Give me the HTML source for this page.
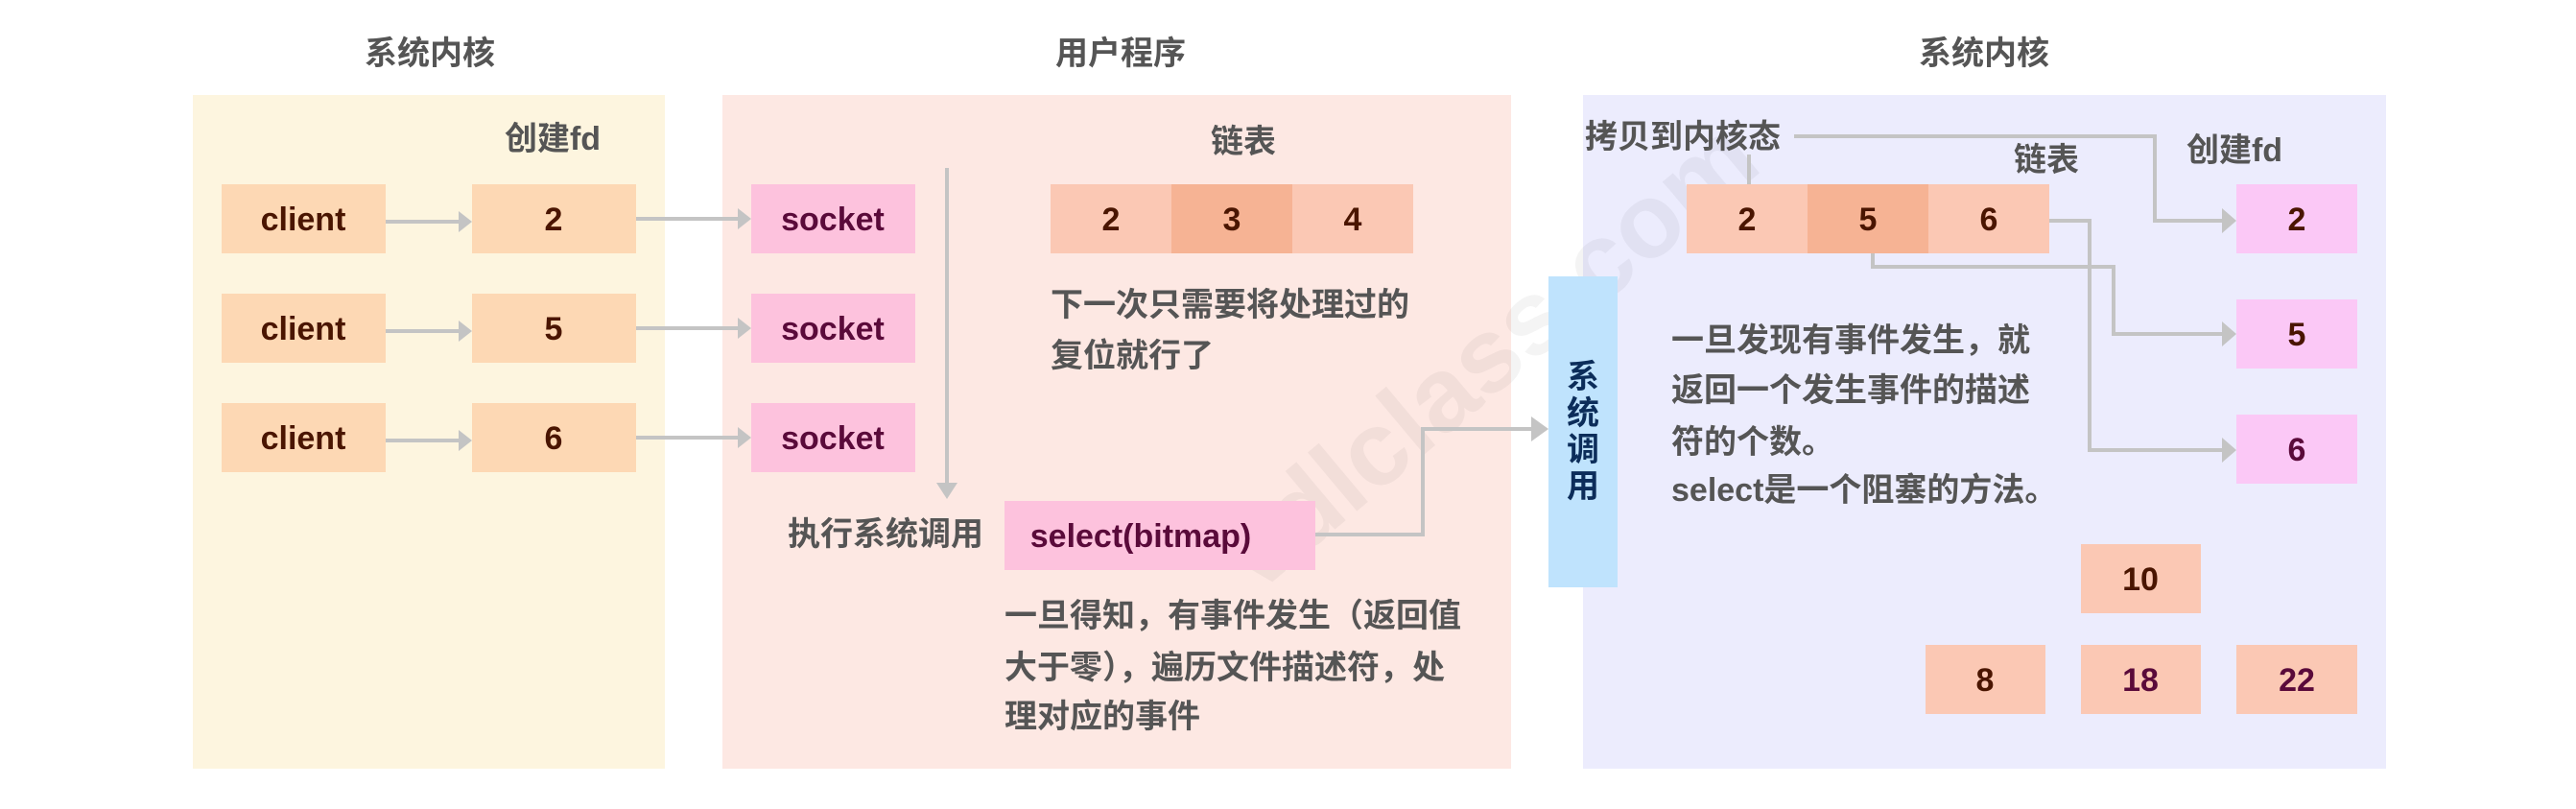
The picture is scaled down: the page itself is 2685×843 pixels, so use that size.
<!DOCTYPE html>
<html><head><meta charset="utf-8"><style>
html,body{margin:0;padding:0;background:#fff;}
svg{display:block;}
text{font-family:"Liberation Sans","Noto Sans CJK SC",sans-serif;font-weight:bold;}
.t{fill:#555;font-size:34px;}
.b{font-size:34px;text-anchor:middle;dominant-baseline:central;}
.br{fill:#4a1500;}
.pu{fill:#5a0a3a;}
.ln{stroke:#c4c4c4;stroke-width:4;fill:none;}
.ah{fill:#c4c4c4;}
</style></head><body>
<svg width="2685" height="843" viewBox="0 0 2685 843" xmlns="http://www.w3.org/2000/svg">
<!-- panels -->
<rect x="201" y="99" width="492" height="702" fill="#fdf5df"/>
<rect x="753" y="99" width="822" height="702" fill="#fde8e3"/>
<rect x="1650" y="99" width="837" height="702" fill="#ececfd"/>

<!-- titles -->
<text class="t b" x="448" y="56" style="fill:#555">系统内核</text>
<text class="t b" x="1168" y="56" style="fill:#555">用户程序</text>
<text class="t b" x="2068" y="56" style="fill:#555">系统内核</text>

<!-- watermark -->
<text x="1310" y="620" transform="rotate(-40 1310 620)" style="font-size:110px;fill:#000;opacity:0.04">vdlclass.com</text>

<!-- left panel -->
<text class="t b" x="576" y="145" style="fill:#555">创建fd</text>
<g>
<rect x="231" y="192" width="171" height="72" fill="#fdd8b4"/>
<rect x="231" y="306" width="171" height="72" fill="#fdd8b4"/>
<rect x="231" y="420" width="171" height="72" fill="#fdd8b4"/>
<text class="b br" x="316" y="229">client</text>
<text class="b br" x="316" y="343">client</text>
<text class="b br" x="316" y="457">client</text>
<rect x="492" y="192" width="171" height="72" fill="#fdd8b4"/>
<rect x="492" y="306" width="171" height="72" fill="#fdd8b4"/>
<rect x="492" y="420" width="171" height="72" fill="#fdd8b4"/>
<text class="b br" x="577" y="229">2</text>
<text class="b br" x="577" y="343">5</text>
<text class="b br" x="577" y="457">6</text>
</g>
<!-- arrows client->fd -->
<path class="ln" d="M402 231H480M402 345H480M402 459H480"/>
<path class="ah" d="M478 220L492 231L478 242ZM478 334L492 345L478 356ZM478 448L492 459L478 470Z"/>
<!-- arrows fd->socket -->
<path class="ln" d="M663 228H771M663 342H771M663 456H771"/>
<path class="ah" d="M769 217L783 228L769 239ZM769 331L783 342L769 353ZM769 445L783 456L769 467Z"/>

<!-- sockets -->
<rect x="783" y="192" width="171" height="72" fill="#fdc2dd"/>
<rect x="783" y="306" width="171" height="72" fill="#fdc2dd"/>
<rect x="783" y="420" width="171" height="72" fill="#fdc2dd"/>
<text class="b pu" x="868" y="229">socket</text>
<text class="b pu" x="868" y="343">socket</text>
<text class="b pu" x="868" y="457">socket</text>

<!-- vertical arrow -->
<path class="ln" d="M987 175V505"/>
<path class="ah" d="M976 503L987 520L998 503Z"/>
<text class="t" x="821" y="568">执行系统调用</text>

<!-- list in user program -->
<text class="t b" x="1296" y="148" style="fill:#555">链表</text>
<rect x="1095" y="192" width="126" height="72" fill="#fbc8b4"/>
<rect x="1221" y="192" width="126" height="72" fill="#f6b394"/>
<rect x="1347" y="192" width="126" height="72" fill="#fbc8b4"/>
<text class="b br" x="1158" y="229">2</text>
<text class="b br" x="1284" y="229">3</text>
<text class="b br" x="1410" y="229">4</text>
<text class="t" x="1095" y="329">下一次只需要将处理过的</text>
<text class="t" x="1095" y="382">复位就行了</text>

<!-- select -->
<rect x="1047" y="522" width="324" height="72" fill="#fdc2dd"/>
<text class="b pu" x="1189" y="559">select(bitmap)</text>
<path class="ln" d="M1371 557H1483V447H1598"/>
<path class="ah" d="M1596 434L1614 447L1596 460Z"/>
<text class="t" x="1047" y="653">一旦得知，有事件发生（返回值</text>
<text class="t" x="1047" y="707">大于零），遍历文件描述符，处</text>
<text class="t" x="1047" y="758">理对应的事件</text>

<!-- syscall box -->
<rect x="1614" y="288" width="72" height="324" fill="#bfe3fd"/>
<g style="fill:#0c2d5a;font-size:34px;text-anchor:middle;dominant-baseline:central">
<text x="1650" y="393">系</text>
<text x="1650" y="431">统</text>
<text x="1650" y="469">调</text>
<text x="1650" y="507">用</text>
</g>

<!-- right panel -->
<text class="t" x="1652" y="154">拷贝到内核态</text>
<text class="t b" x="2133" y="167" style="fill:#555">链表</text>
<text class="t b" x="2329" y="157" style="fill:#555">创建fd</text>
<path class="ln" d="M1823 161V192"/>
<path class="ln" d="M1870 142H2246V230H2318"/>
<path class="ln" d="M1952 264V278H2203V348H2318"/>
<path class="ln" d="M2136 230H2178V469H2318"/>
<path class="ah" d="M2316 217L2331 230L2316 243ZM2316 335L2331 348L2316 361ZM2316 456L2331 469L2316 482Z"/>

<rect x="1758" y="192" width="126" height="72" fill="#fbc8b4"/>
<rect x="1884" y="192" width="126" height="72" fill="#f6b394"/>
<rect x="2010" y="192" width="126" height="72" fill="#fbc8b4"/>
<text class="b br" x="1821" y="229">2</text>
<text class="b br" x="1947" y="229">5</text>
<text class="b br" x="2073" y="229">6</text>

<rect x="2331" y="192" width="126" height="72" fill="#fbc8f6"/>
<rect x="2331" y="312" width="126" height="72" fill="#fbc8f6"/>
<rect x="2331" y="432" width="126" height="72" fill="#fbc8f6"/>
<text class="b br" x="2394" y="229">2</text>
<text class="b br" x="2394" y="349">5</text>
<text class="b pu" x="2394" y="469">6</text>

<text class="t" x="1742" y="366">一旦发现有事件发生，就</text>
<text class="t" x="1742" y="418">返回一个发生事件的描述</text>
<text class="t" x="1742" y="472">符的个数。</text>
<text class="t" x="1742" y="522">select是一个阻塞的方法。</text>

<rect x="2169" y="567" width="125" height="72" fill="#fbc8b4"/>
<rect x="2007" y="672" width="125" height="72" fill="#fbc8b4"/>
<rect x="2169" y="672" width="125" height="72" fill="#fbc8b4"/>
<rect x="2331" y="672" width="126" height="72" fill="#fbc8b4"/>
<text class="b br" x="2231" y="604">10</text>
<text class="b br" x="2069" y="709">8</text>
<text class="b pu" x="2231" y="709">18</text>
<text class="b pu" x="2394" y="709">22</text>
</svg>
</body></html>
